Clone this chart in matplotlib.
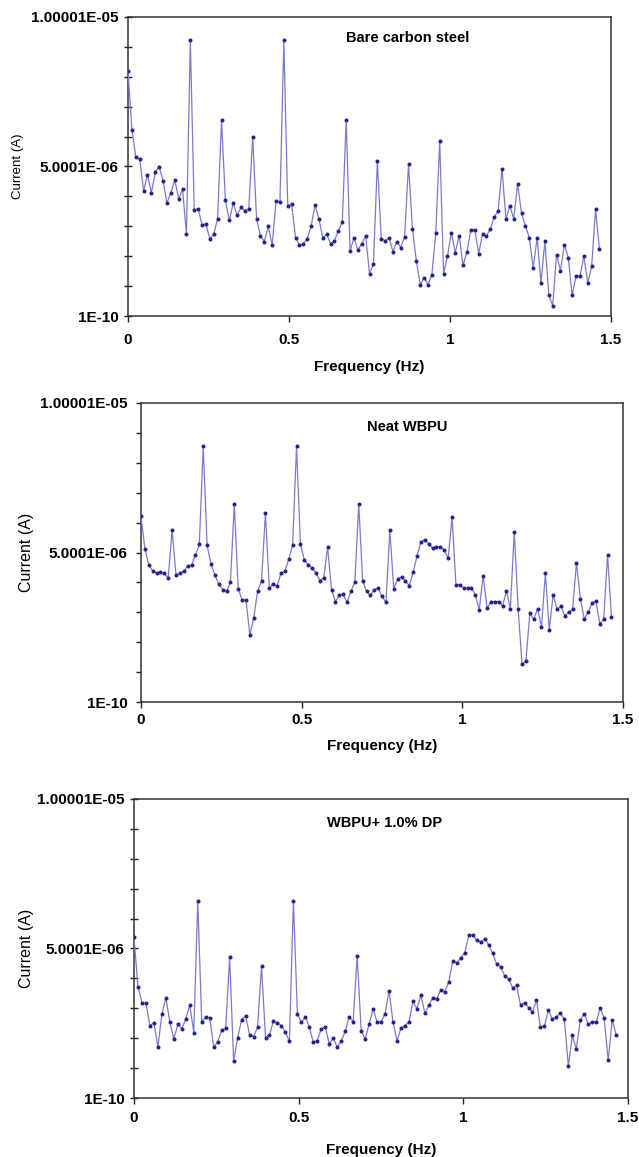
import numpy as np
import matplotlib
matplotlib.use("Agg")
import matplotlib.pyplot as plt

plt.rcParams['font.family'] = ['Liberation Sans', 'DejaVu Sans']

# Frequency step of the spectrum (Hz)
DF = 0.0121

# Current values, in units of 1e-6 A
bare = [8.20, 6.23, 5.32, 5.25, 4.19, 4.72, 4.13, 4.80, 5.00, 4.52,
        3.78, 4.11, 4.55, 3.92, 4.24, 2.75, 9.22, 3.54, 3.59, 3.05,
        3.07, 2.58, 2.73, 3.25, 6.55, 3.87, 3.20, 3.77, 3.37, 3.63,
        3.52, 3.59, 5.99, 3.25, 2.68, 2.49, 3.00, 2.37, 3.85, 3.82,
        9.22, 3.67, 3.75, 2.62, 2.37, 2.42, 2.59, 3.00, 3.71, 3.25,
        2.62, 2.73, 2.42, 2.52, 2.85, 3.13, 6.55, 2.18, 2.62, 2.21,
        2.42, 2.68, 1.41, 1.75, 5.18, 2.59, 2.52, 2.62, 2.15, 2.49,
        2.29, 2.65, 5.07, 2.91, 1.85, 1.05, 1.28, 1.05, 1.38, 2.79,
        5.85, 1.42, 2.00, 2.79, 2.12, 2.69, 1.69, 2.15, 2.89, 2.88,
        2.09, 2.73, 2.67, 2.92, 3.31, 3.52, 4.93, 3.23, 3.69, 3.25,
        4.41, 3.44, 3.02, 2.62, 1.60, 2.62, 1.12, 2.50, 0.71, 0.35,
        2.05, 1.52, 2.39, 1.95, 0.69, 1.34, 1.33, 2.00, 1.10, 1.66,
        3.57, 2.23]

neat = [6.21, 5.13, 4.57, 4.39, 4.31, 4.34, 4.30, 4.14, 5.75, 4.25,
        4.31, 4.38, 4.54, 4.58, 4.91, 5.27, 8.55, 5.24, 4.62, 4.24,
        3.94, 3.76, 3.70, 4.01, 6.62, 3.79, 3.41, 3.40, 2.25, 2.82,
        3.72, 4.05, 6.32, 3.80, 3.96, 3.87, 4.31, 4.38, 4.77, 5.25,
        8.55, 5.28, 4.76, 4.58, 4.49, 4.31, 4.06, 4.16, 5.18, 3.75,
        3.36, 3.58, 3.60, 3.33, 3.70, 4.01, 6.62, 4.06, 3.70, 3.58,
        3.76, 3.80, 3.53, 3.33, 5.76, 3.78, 4.11, 4.18, 4.06, 3.89,
        4.35, 4.89, 5.35, 5.43, 5.28, 5.15, 5.20, 5.18, 5.09, 4.80,
        6.19, 3.92, 3.92, 3.81, 3.80, 3.82, 3.57, 3.09, 4.23, 3.13,
        3.36, 3.36, 3.36, 3.22, 3.71, 3.12, 5.69, 3.12, 1.26, 1.38,
        2.98, 2.76, 3.12, 2.50, 4.31, 2.42, 3.59, 3.11, 3.20, 2.89,
        3.01, 3.10, 4.65, 3.46, 2.78, 3.00, 3.31, 3.37, 2.62, 2.76,
        4.91, 2.83]

dp = [5.37, 3.71, 3.19, 3.17, 2.42, 2.52, 1.71, 2.81, 3.36, 2.53,
      1.97, 2.46, 2.32, 2.65, 3.11, 2.19, 6.60, 2.53, 2.72, 2.68,
      1.71, 1.88, 2.26, 2.33, 4.70, 1.23, 2.01, 2.62, 2.75, 2.12,
      2.05, 2.36, 4.41, 2.02, 2.10, 2.58, 2.52, 2.42, 2.20, 1.90,
      6.60, 2.81, 2.53, 2.72, 2.37, 1.86, 1.92, 2.32, 2.36, 1.81,
      2.00, 1.71, 1.90, 2.23, 2.72, 2.55, 4.76, 2.25, 1.97, 2.47,
      2.97, 2.55, 2.55, 2.81, 3.59, 2.54, 1.91, 2.34, 2.42, 2.55,
      3.23, 2.98, 3.44, 2.83, 3.10, 3.36, 3.32, 3.62, 3.56, 3.88,
      4.57, 4.52, 4.69, 4.86, 5.44, 5.45, 5.28, 5.21, 5.33, 5.12,
      4.84, 4.48, 4.39, 4.09, 3.98, 3.69, 3.77, 3.11, 3.19, 3.02,
      2.88, 3.28, 2.36, 2.41, 2.94, 2.63, 2.72, 2.84, 2.64, 1.07,
      2.10, 1.63, 2.62, 2.82, 2.47, 2.54, 2.54, 3.02, 2.66, 1.27,
      2.61, 2.11]

titles = ["Bare carbon steel", "Neat WBPU", "WBPU+ 1.0% DP"]
y_ticks = [1e-10, 5.0001e-6, 1.00001e-5]
y_tick_labels = ["1E-10", "5.0001E-06", "1.00001E-05"]
x_ticks = [0, 0.5, 1, 1.5]
x_tick_labels = ["0", "0.5", "1", "1.5"]

LINE_COLOR = '#7B7BCB'
MARK_COLOR = '#23238C'

W, H = 639, 1157
fig = plt.figure(figsize=(W / 100, H / 100), dpi=100)

# ----------------------------- Panel layout (pixels) -----------------------------
# left, right, top, bottom, title x/y (axes frac), ylabel x, xlabel y, y tick dir, ylabel size, x pad
panels = [
    (128, 611, 17, 316, 0.578, 0.93, -0.228, -0.171, 'inout', 9.5, 8),
    (141, 623, 403, 702, 0.553, 0.92, -0.237, -0.147, 'out', 11.5, 4),
    (134, 628, 799, 1098, 0.507, 0.92, -0.217, -0.174, 'inout', 11.5, 5),
]

for data, title, p in zip([bare, neat, dp], titles, panels):
    left, right, top, bottom, tx, ty, ylx, xly, ydir, ysize, xpad = p
    ax = fig.add_axes([left / W, 1 - bottom / H, (right - left) / W, (bottom - top) / H])

    values = np.array(data) * 1e-6
    freq = np.arange(len(values)) * DF
    ax.plot(freq, values, color=LINE_COLOR, lw=0.9, marker='o', ms=1.9,
            mfc=MARK_COLOR, mec=MARK_COLOR, zorder=3)

    ax.set_xlim(0, 1.5)
    ax.set_ylim(1e-10, 1.00001e-5)
    ax.set_xticks(x_ticks)
    ax.set_xticklabels(x_tick_labels)
    ax.set_yticks(y_ticks)
    ax.set_yticklabels(y_tick_labels)
    ax.set_yticks(np.linspace(1e-10, 1.00001e-5, 11), minor=True)

    ax.tick_params(axis='y', which='major', direction=ydir, length=6 if ydir == 'inout' else 3.5,
                   width=1, pad=4 if ydir == 'inout' else 6, labelsize=11, colors='#222222')
    ax.tick_params(axis='y', which='minor', direction=ydir, length=6 if ydir == 'inout' else 3.5,
                   width=1, colors='#222222')
    ax.tick_params(axis='x', which='major', direction='out', length=4, width=1, pad=xpad,
                   labelsize=11, colors='#222222')
    for lab in ax.get_xticklabels() + ax.get_yticklabels():
        lab.set_fontweight('bold')
        lab.set_color('black')

    for sp in ax.spines.values():
        sp.set_color('#333333')
        sp.set_linewidth(1.1)

    ax.text(tx, ty, title, transform=ax.transAxes, ha='center', va='center',
            fontsize=10.5, fontweight='bold')

    ax.set_xlabel('Frequency (Hz)', fontsize=11, fontweight='bold')
    ax.xaxis.set_label_coords(0.5, xly)
    ax.xaxis.label.set_va('center')
    ax.set_ylabel('Current (A)', fontsize=ysize)
    ax.yaxis.set_label_coords(ylx, 0.5)
    ax.yaxis.label.set_va('center')

fig.savefig('out.png', dpi=100)
